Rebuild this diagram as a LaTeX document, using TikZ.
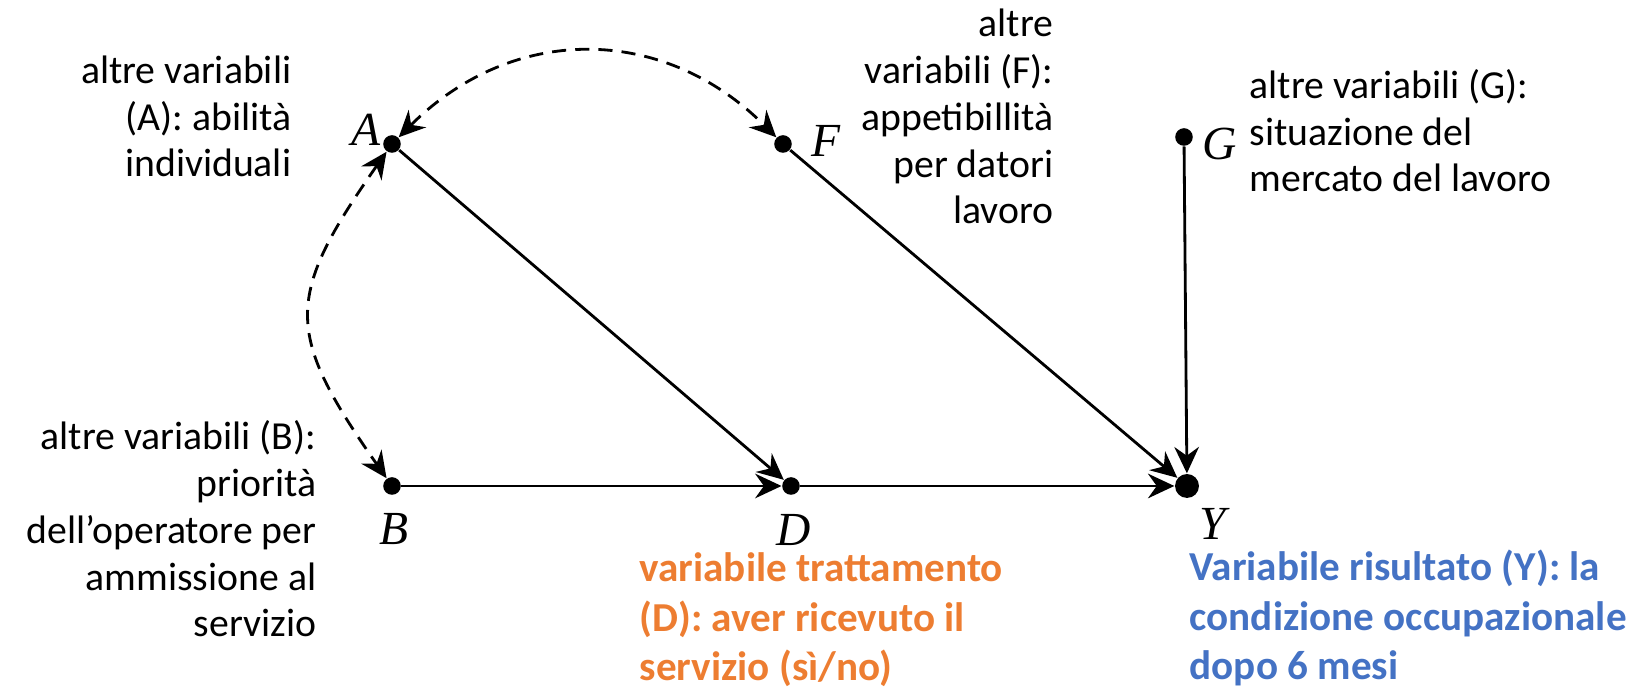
\documentclass[tikz,border=0pt]{standalone}
\usepackage{fontspec}
\setmainfont{Carlito}
\newfontfamily\varfont{Liberation Serif}
\usepackage{xcolor}
\usetikzlibrary{arrows.meta}
\definecolor{tratt}{HTML}{ED7D31}
\definecolor{risult}{HTML}{4472C4}

\begin{document}
\begin{tikzpicture}[x=0.01cm, y=-0.01cm,
    dot/.style={circle, fill=black, inner sep=0pt, minimum size=5pt},
    bigdot/.style={circle, fill=black, inner sep=0pt, minimum size=6.8pt},
    varname/.style={font=\varfont\itshape\fontsize{13.5}{13.5}\selectfont, inner sep=0pt},
    note/.style={font=\fontsize{11.3}{13.35}\selectfont, inner sep=0pt},
    keynote/.style={font=\bfseries\fontsize{11.7}{14.2}\selectfont, inner sep=0pt},
    arr/.style={line width=0.8pt, -{Stealth[length=7.5pt, width=7pt, inset=2.5pt]}},
    conf/.style={line width=0.8pt, dash pattern=on 4pt off 2.6pt,
        {Stealth[length=7.5pt, width=7pt, inset=2.5pt]}-{Stealth[length=7.5pt, width=7pt, inset=2.5pt]}}]
    \useasboundingbox (0,0) rectangle (1632,689);

    % --- VARIABLES (DOTS) ---
    \node[dot] (A) at (392,144) {};
    \node[dot] (F) at (783,144) {};
    \node[dot] (G) at (1184,137) {};
    \node[dot] (B) at (392,486) {};
    \node[dot] (D) at (791,486) {};
    \node[bigdot] (Y) at (1187,486) {};

    % Letters
    \node[varname] (lA) at (366,130) {A};
    \node[varname] (lF) at (826,141) {F};
    \node[varname] (lG) at (1220,144) {G};
    \node[varname] (lB) at (394,529) {B};
    \node[varname] (lD) at (794,530) {D};
    \node[varname] (lY) at (1213,524) {Y};

    % --- CAUSAL ARROWS ---
    \draw[arr] (A) -- (D);
    \draw[arr] (B) -- (D);
    \draw[arr] (D) -- (Y);
    \draw[arr] (F) -- (Y);
    \draw[arr] (G) -- (Y);

    % Confounding (dashed, both ways)
    \draw[conf] (A) to[out=45, in=135, looseness=1.09] (F);
    \draw[conf] (A) to[out=235, in=125, looseness=1.4] (B);

    % --- DESCRIPTIONS (anchored at last baseline) ---
    \node[note, align=right, anchor=base east] (tA) at (292,177)
        {altre variabili\\(A): abilità\\individuali};
    \node[note, align=right, anchor=base east] (tF) at (1054,224)
        {altre\\variabili (F):\\appetibillità\\per datori\\lavoro};
    \node[note, align=left, anchor=base west] (tG) at (1249,192)
        {altre variabili (G):\\situazione del\\mercato del lavoro};
    \node[note, align=right, anchor=base east] (tB) at (317,637)
        {altre variabili (B):\\priorità\\dell’operatore per\\ammissione al\\servizio};
    \node[keynote, align=left, anchor=base west, text=tratt] (tD) at (639,681)
        {variabile trattamento\\(D): aver ricevuto il\\servizio (sì/no)};
    \node[keynote, align=left, anchor=base west, text=risult] (tY) at (1189,680)
        {Variabile risultato (Y): la\\condizione occupazionale\\dopo 6 mesi};
\end{tikzpicture}
\end{document}
